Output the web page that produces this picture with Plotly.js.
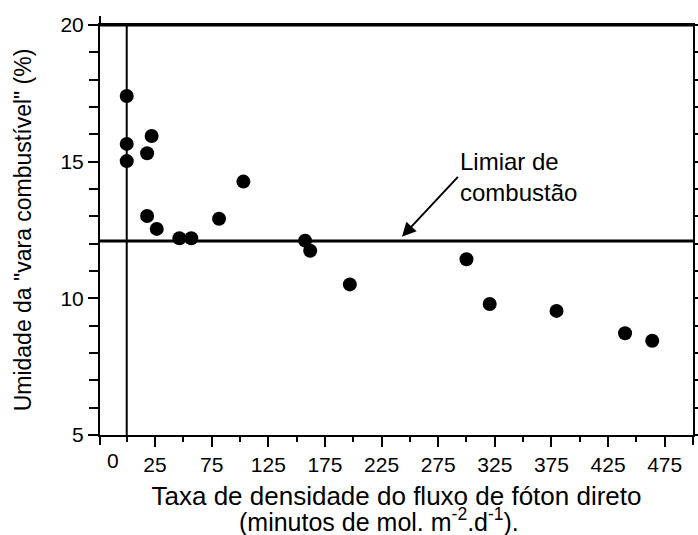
<!DOCTYPE html>
<html>
<head>
<meta charset="utf-8">
<script src="https://cdn.plot.ly/plotly-3.0.1.min.js"></script>
<style>html,body{margin:0;padding:0;background:#fff;}#chart{width:698px;height:535px;}</style>
</head>
<body>
<div id="chart"></div>
<script>
// Data
const photonFlux = [0, 0, 0, 22, 18, 18, 26.5, 46.5, 57, 81.5, 103, 157.5, 162, 197, 300, 320.5, 379.5, 440, 464];
const moisture = [17.4, 15.65, 15.02, 15.94, 15.31, 13.01, 12.54, 12.2, 12.2, 12.91, 14.27, 12.11, 11.74, 10.51, 11.43, 9.79, 9.54, 8.72, 8.45];
const threshold = 12.1;
const verticalRef = 0;
const xTickVals = [25, 75, 125, 175, 225, 275, 325, 375, 425, 475];
const xTickText = ['25', '75', '125', '175', '225', '275', '325', '375', '425', '475'];
const yTickVals = [5, 10, 15, 20];
const yTickText = ['5', '10', '15', '20'];
const xZeroLabel = '0';
const xZeroLabelPos = -12;
const arrowTip = [243, 12.25];
const labelText = 'Limiar de<br>combustão';
const xTitle1 = 'Taxa de densidade do fluxo de fóton direto';
const xTitle2 = '(minutos de mol. m<sup>-2</sup>.d<sup>-1</sup>).';
const yTitle = 'Umidade da "vara combustível" (%)';

const FONT = 'Liberation Sans, Arial, Helvetica, sans-serif';

const trace = {
  x: photonFlux,
  y: moisture,
  type: 'scatter',
  mode: 'markers',
  marker: {color: '#000', size: 14},
  hoverinfo: 'x+y',
  showlegend: false
};

const layout = {
  width: 698,
  height: 535,
  margin: {l: 100, r: 5, t: 25, b: 100},
  paper_bgcolor: '#fff',
  plot_bgcolor: '#fff',
  font: {family: FONT, color: '#000', size: 21},
  showlegend: false,
  xaxis: {
    range: [-23.6, 500],
    showgrid: false,
    zeroline: false,
    showline: true,
    linecolor: '#000',
    linewidth: 2,
    mirror: true,
    ticks: 'outside',
    ticklen: 10,
    tickwidth: 2,
    tickcolor: '#000',
    tickmode: 'array',
    tickvals: xTickVals,
    ticktext: xTickText,
    tickfont: {family: FONT, size: 21, color: '#000'},
    minor: {ticks: 'outside', ticklen: 5, tickwidth: 2, tickcolor: '#000', tickmode: 'linear', tick0: 0, dtick: 25, showgrid: false},
    title: {text: xTitle1, font: {family: FONT, size: 26, color: '#000'}, standoff: 12}
  },
  yaxis: {
    range: [5, 20],
    showgrid: false,
    zeroline: false,
    showline: true,
    linecolor: '#000',
    linewidth: 2,
    mirror: 'ticks',
    ticks: 'outside',
    ticklen: 10,
    tickwidth: 2,
    tickcolor: '#000',
    tickmode: 'array',
    tickvals: yTickVals,
    ticktext: yTickText,
    tickfont: {family: FONT, size: 21, color: '#000'},
    minor: {ticks: 'outside', ticklen: 9, tickwidth: 2, tickcolor: '#000', tickmode: 'linear', tick0: 5, dtick: 1, showgrid: false},
    title: {text: yTitle, font: {family: FONT, size: 23, color: '#000'}, standoff: 22}
  },
  shapes: [
    {type: 'line', xref: 'paper', x0: 0, x1: 1, yref: 'y', y0: threshold, y1: threshold, line: {color: '#000', width: 3}},
    {type: 'line', xref: 'x', x0: verticalRef, x1: verticalRef, yref: 'paper', y0: 0, y1: 1, line: {color: '#000', width: 2}},
    {type: 'line', xref: 'paper', x0: 0, x1: 0, yref: 'paper', ysizemode: 'pixel', yanchor: 1, y0: 0, y1: 9, line: {color: '#000', width: 2}},
    {type: 'line', xref: 'paper', x0: 0, x1: 0, yref: 'paper', ysizemode: 'pixel', yanchor: 0, y0: 0, y1: -10, line: {color: '#000', width: 2}},
    {type: 'line', xref: 'paper', x0: 1, x1: 1, yref: 'paper', ysizemode: 'pixel', yanchor: 0, y0: 0, y1: -10, line: {color: '#000', width: 2}},
    {type: 'line', xref: 'paper', x0: 0, x1: 1, yref: 'paper', y0: 1, y1: 1, line: {color: '#000', width: 3}}
  ],
  annotations: [
    {x: arrowTip[0], y: arrowTip[1], xref: 'x', yref: 'y', text: labelText, showarrow: true,
     arrowhead: 2, arrowsize: 1.4, arrowwidth: 2, arrowcolor: '#000', ax: 56, ay: -60,
     xanchor: 'left', yanchor: 'middle', align: 'left',
     font: {family: FONT, size: 24, color: '#000'}},
    {x: xZeroLabelPos, xref: 'x', y: 0, yref: 'paper', yanchor: 'top', yshift: -12, text: xZeroLabel, showarrow: false,
     font: {family: FONT, size: 21, color: '#000'}},
    {x: 0.47, xref: 'paper', y: 0, yref: 'paper', yanchor: 'top', yshift: -67, text: xTitle2, showarrow: false,
     font: {family: FONT, size: 25, color: '#000'}}
  ]
};

Plotly.newPlot('chart', [trace], layout, {displayModeBar: false, staticPlot: true});
</script>
</body>
</html>
